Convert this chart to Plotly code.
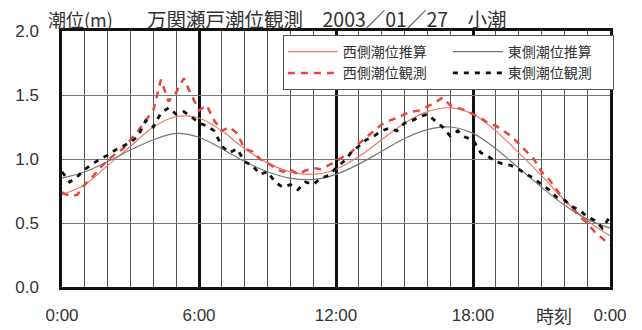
import plotly.graph_objects as go

# Time axis (hours)
obs_hours = [i / 3 for i in range(73)]      # observations every 20 minutes
est_hours = list(range(25))                 # hourly predictions

# West side predicted tide (m)
west_est = [0.72, 0.80, 0.95, 1.10, 1.25, 1.33, 1.32, 1.22, 1.08, 0.97, 0.90, 0.88,
            0.92, 1.02, 1.15, 1.28, 1.37, 1.40, 1.35, 1.22, 1.05, 0.87, 0.68, 0.52, 0.40]

# East side predicted tide (m)
east_est = [0.85, 0.90, 0.98, 1.07, 1.15, 1.20, 1.17, 1.08, 0.98, 0.90, 0.85, 0.84,
            0.88, 0.96, 1.06, 1.16, 1.23, 1.25, 1.20, 1.08, 0.93, 0.78, 0.64, 0.53, 0.46]

# West side observed tide (m)
west_obs = [0.74, 0.71, 0.72, 0.80, 0.86, 0.93, 0.99, 1.04, 1.08, 1.15, 1.22, 1.30,
            1.38, 1.62, 1.45, 1.52, 1.63, 1.50, 1.38, 1.42, 1.30, 1.22, 1.25, 1.20,
            1.08, 1.06, 1.00, 0.97, 0.93, 0.90, 0.92, 0.88, 0.91, 0.93, 0.92, 0.95,
            0.98, 1.02, 1.05, 1.12, 1.17, 1.22, 1.27, 1.30, 1.32, 1.35, 1.37, 1.38,
            1.41, 1.44, 1.48, 1.42, 1.40, 1.38, 1.35, 1.32, 1.28, 1.26, 1.22, 1.18,
            1.12, 1.06, 1.00, 0.90, 0.84, 0.76, 0.68, 0.62, 0.55, 0.50, 0.43, 0.38, 0.33]

# East side observed tide (m)
east_obs = [0.90, 0.82, 0.86, 0.92, 0.96, 1.00, 1.03, 1.07, 1.10, 1.13, 1.18, 1.30,
            1.25, 1.36, 1.40, 1.35, 1.37, 1.33, 1.28, 1.26, 1.22, 1.10, 1.05, 1.08,
            0.98, 0.95, 0.88, 0.90, 0.82, 0.78, 0.80, 0.76, 0.82, 0.80, 0.85, 0.87,
            0.93, 0.98, 1.05, 1.10, 1.15, 1.18, 1.22, 1.24, 1.22, 1.28, 1.30, 1.33,
            1.35, 1.30, 1.25, 1.18, 1.22, 1.17, 1.15, 1.05, 1.02, 0.98, 0.96, 0.95,
            0.92, 0.88, 0.85, 0.80, 0.76, 0.70, 0.68, 0.63, 0.60, 0.55, 0.52, 0.46, 0.55]

x_tickvals = [0, 6, 12, 18, 24]
x_ticktext = ["0:00", "6:00", "12:00", "18:00", "0:00"]
y_tickvals = [0.0, 0.5, 1.0, 1.5, 2.0]
y_ticktext = ["0.0", "0.5", "1.0", "1.5", "2.0"]

RED = "#e8463c"
JP = "Noto Sans CJK JP"
TXT = "#333333"

fig = go.Figure()
fig.add_trace(go.Scatter(x=est_hours, y=west_est, name="西側潮位推算", mode="lines",
                         line=dict(color="#ee7766", width=1.2, shape="spline"),
                         legendgroup="west"))
fig.add_trace(go.Scatter(x=obs_hours, y=west_obs, name="西側潮位観測", mode="lines",
                         line=dict(color=RED, width=2.5, dash="7px,6px"),
                         legendgroup="west"))
fig.add_trace(go.Scatter(x=est_hours, y=east_est, name="東側潮位推算", mode="lines",
                         line=dict(color="#777777", width=1.2, shape="spline"),
                         legendgroup="east"))
fig.add_trace(go.Scatter(x=obs_hours, y=east_obs, name="東側潮位観測", mode="lines",
                         line=dict(color="#111111", width=2.8, dash="5px,6px"),
                         legendgroup="east"))

fig.update_layout(
    width=642, height=330,
    margin=dict(l=62, r=32, t=31, b=43, autoexpand=False),
    paper_bgcolor="white", plot_bgcolor="white",
    font=dict(family=JP, color="#222222"),
    showlegend=True,
    legend=dict(orientation="h", traceorder="grouped",
                x=0.403, xanchor="left", y=0.984, yanchor="top",
                bgcolor="white", bordercolor="#555555", borderwidth=1,
                font=dict(family=JP, size=14, color=TXT),
                itemwidth=50, entrywidth=100),
    xaxis=dict(range=[0, 24], tickvals=x_tickvals, ticktext=x_ticktext,
               showgrid=True, gridcolor="#111111", gridwidth=2.5,
               minor=dict(dtick=1, showgrid=True, gridcolor="#555555", gridwidth=1.3),
               showline=True, linecolor="#111111", linewidth=2.5, mirror=True,
               ticks="", ticklabelstandoff=11, zeroline=False, automargin=False,
               tickfont=dict(family="Liberation Sans", size=17, color=TXT)),
    yaxis=dict(range=[0, 2], tickvals=y_tickvals, ticktext=y_ticktext,
               showgrid=True, gridcolor="#777777", gridwidth=1,
               showline=True, linecolor="#111111", linewidth=2.5, mirror=True,
               ticks="", ticklabelstandoff=17, zeroline=False, automargin=False,
               tickfont=dict(family="Liberation Sans", size=17, color=TXT)),
    annotations=[
        dict(text="潮位(m)", xref="paper", yref="paper", x=-0.029, y=1.047,
             xanchor="left", yanchor="middle", showarrow=False,
             font=dict(family=JP, size=18, color=TXT)),
        dict(text="万関瀬戸潮位観測　2003／01／27　小潮", xref="paper", yref="paper",
             x=0.151, y=1.047, xanchor="left", yanchor="middle", showarrow=False,
             font=dict(family=JP, size=19.5, color=TXT)),
        dict(text="時刻", xref="x", yref="paper", x=21.55, y=-0.109,
             xanchor="center", yanchor="middle", showarrow=False,
             font=dict(family=JP, size=18, color=TXT)),
    ],
)

fig.write_html("out.html")
